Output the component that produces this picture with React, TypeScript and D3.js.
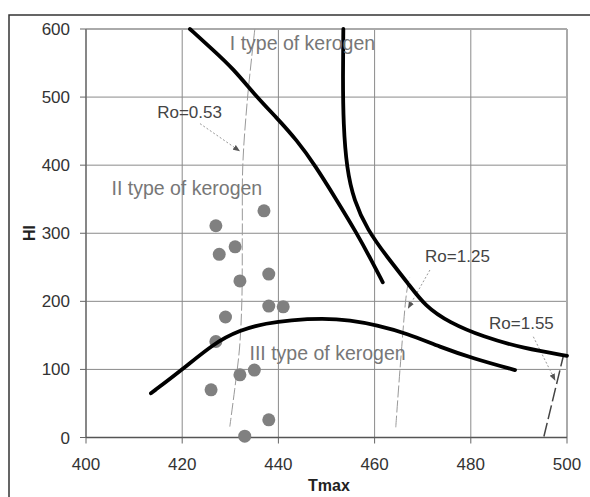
import React from "react";
import * as d3 from "d3";

// ---- data ----
const xTicks = [400, 420, 440, 460, 480, 500];
const yTicks = [0, 100, 200, 300, 400, 500, 600];

// samples: Tmax, HI
const sampleTmax = [437, 427, 431, 427.7, 438, 432, 438, 441, 429, 427, 432, 435, 426, 438, 433];
const sampleHI = [333, 311, 280, 269, 240, 230, 193, 192, 177, 141, 92, 99, 70, 26, 2];

// kerogen boundary curves [Tmax, HI]
const boundaryI_II: [number, number][] = [
  [421.6, 600], [426, 572], [430.6, 542], [435.5, 500], [439.6, 470],
  [443.8, 437], [447.6, 400], [452, 350], [456.3, 300], [459.2, 262], [461.7, 228],
];
const boundaryI_III: [number, number][] = [
  [453.5, 600], [453.4, 530], [453.5, 460], [454.2, 395], [455.7, 348],
  [458.5, 305], [462.5, 266], [467, 226], [470.5, 193], [475.5, 169],
  [482.5, 148], [491, 131], [500, 120],
];
const boundaryII_III: [number, number][] = [
  [413.5, 65], [419.9, 99], [426.5, 138], [432, 158], [437.6, 168],
  [442.4, 172.5], [449.3, 175], [454.9, 172.5], [460.4, 165], [466.7, 153],
  [473.6, 133], [480.5, 116], [489.2, 99],
];

// vitrinite reflectance isolines
const ro053: [number, number][] = [
  [435.1, 600], [433.6, 500], [432.6, 400], [432.5, 300], [432.4, 200],
  [431.9, 130], [430.9, 70], [429.9, 16],
];
const ro125: [number, number][] = [[464.4, 15], [465.5, 120], [466.7, 215], [467.3, 235]];
const ro155: [number, number][] = [[495.2, 1.5], [497.2, 60], [499.2, 118.6]];

// ---- layout ----
const W = 590;
const H = 497;
const left = 86;
const right = 567;
const top = 29;
const bottom = 437.5;

const FONT = "'Liberation Sans', Arial, sans-serif";

export default function App() {
  const x = d3.scaleLinear().domain([400, 500]).range([left, right]);
  const y = d3.scaleLinear().domain([0, 600]).range([bottom, top]);

  const thick = d3
    .line<[number, number]>()
    .x((d) => x(d[0]))
    .y((d) => y(d[1]))
    .curve(d3.curveBasis);
  const straight = d3
    .line<[number, number]>()
    .x((d) => x(d[0]))
    .y((d) => y(d[1]))
    .curve(d3.curveCatmullRom.alpha(0.5));

  const arrows: { from: [number, number]; to: [number, number] }[] = [
    { from: [423.7, 461], to: [431.9, 421] },
    { from: [471.5, 246], to: [467, 190] },
    { from: [493, 148], to: [497.5, 84.4] },
  ];

  const labels: { text: string; at: [number, number]; size: number }[] = [
    { text: "I type of kerogen", at: [429.9, 569], size: 19.5 },
    { text: "II type of kerogen", at: [405.3, 356], size: 19.5 },
    { text: "III type of kerogen", at: [434, 114], size: 19.5 },
    { text: "Ro=0.53", at: [414.8, 469], size: 17 },
    { text: "Ro=1.25", at: [470.5, 258], size: 17 },
    { text: "Ro=1.55", at: [483.8, 159], size: 17 },
  ];

  return (
    <svg
      width={W}
      height={H}
      style={{ position: "absolute", left: 0, top: 0, background: "#fff" }}
      fontFamily={FONT}
    >
      <defs>
        <marker id="ah" viewBox="0 0 10 10" refX="9" refY="5" markerWidth="7" markerHeight="7" orient="auto">
          <path d="M0,1 L10,5 L0,9 z" fill="#555" />
        </marker>
      </defs>
      {/* outer frame */}
      <rect x={9} y={15} width={W + 20} height={H + 20} fill="#fff" stroke="#333" strokeWidth={1.5} />

      {/* grid */}
      {xTicks.map((t) => (
        <line key={"gx" + t} x1={x(t)} x2={x(t)} y1={top} y2={bottom} stroke="#8a8a8a" strokeWidth={1} />
      ))}
      {yTicks.map((t) => (
        <line key={"gy" + t} x1={left} x2={right} y1={y(t)} y2={y(t)} stroke="#8a8a8a" strokeWidth={1} />
      ))}
      {/* plot border top/right */}
      <line x1={left} x2={right} y1={top} y2={top} stroke="#aaa" strokeWidth={2} />
      <line x1={right} x2={right} y1={top} y2={bottom} stroke="#aaa" strokeWidth={2} />
      {/* axes */}
      <line x1={left} x2={left} y1={top} y2={bottom} stroke="#666" strokeWidth={1.3} />
      <line x1={left} x2={right} y1={bottom} y2={bottom} stroke="#555" strokeWidth={1.5} />
      {xTicks.map((t) => (
        <g key={"tx" + t}>
          <line x1={x(t)} x2={x(t)} y1={bottom} y2={bottom + 6} stroke="#666" />
          <text x={x(t)} y={bottom + 32} textAnchor="middle" fontSize={17} fill="#333">
            {t}
          </text>
        </g>
      ))}
      {yTicks.map((t) => (
        <g key={"ty" + t}>
          <line x1={left - 6} x2={left} y1={y(t)} y2={y(t)} stroke="#666" />
          <text x={70} y={y(t) + 6} textAnchor="end" fontSize={17} fill="#333">
            {t}
          </text>
        </g>
      ))}

      {/* Ro isolines */}
      <path d={straight(ro053) || ""} fill="none" stroke="#999" strokeWidth={1} strokeDasharray="12,3" />
      <path d={straight(ro125) || ""} fill="none" stroke="#999" strokeWidth={1} strokeDasharray="12,3" />
      <path d={straight(ro155) || ""} fill="none" stroke="#444" strokeWidth={1.5} strokeDasharray="14,4" />

      {/* arrows */}
      {arrows.map((a, i) => (
        <line
          key={"a" + i}
          x1={x(a.from[0])}
          y1={y(a.from[1])}
          x2={x(a.to[0])}
          y2={y(a.to[1])}
          stroke="#999"
          strokeWidth={1}
          strokeDasharray="2,2"
          markerEnd="url(#ah)"
        />
      ))}

      {/* samples */}
      {sampleTmax.map((t, i) => (
        <circle key={"s" + i} cx={x(t)} cy={y(sampleHI[i])} r={6.5} fill="#808080" />
      ))}

      {/* boundaries */}
      {[boundaryI_II, boundaryI_III, boundaryII_III].map((b, i) => (
        <path key={"b" + i} d={thick(b) || ""} fill="none" stroke="#000" strokeWidth={3.8} strokeLinecap="round" strokeLinejoin="round" />
      ))}

      {/* labels */}
      {labels.map((l) => (
        <text key={l.text} x={x(l.at[0])} y={y(l.at[1])} fontSize={l.size} fill={l.text.startsWith("Ro") ? "#444" : "#777"}>
          {l.text}
        </text>
      ))}

      {/* axis titles */}
      <text
        transform={`translate(35,233) rotate(-90)`}
        textAnchor="middle"
        fontSize={16}
        fontWeight="bold"
        fill="#222"
      >
        HI
      </text>
      <text x={329} y={491} textAnchor="middle" fontSize={16} fontWeight="bold" fill="#222">
        Tmax
      </text>
    </svg>
  );
}
